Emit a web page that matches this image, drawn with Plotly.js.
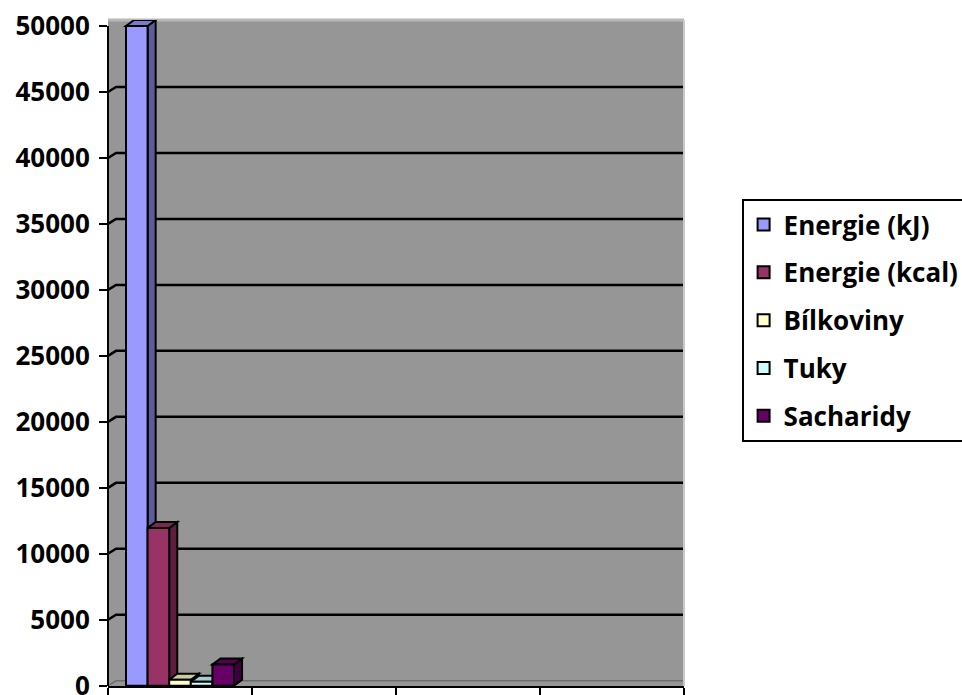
<!DOCTYPE html>
<html>
<head>
<meta charset="utf-8">
<script src="https://cdn.plot.ly/plotly-3.0.1.min.js"></script>
<style>
  html, body { margin: 0; padding: 0; background: #ffffff; }
  #chart { width: 962px; height: 695px; }
</style>
</head>
<body>
<div id="chart"></div>
<script>
// Categories on the horizontal axis (only the first one carries values)
const categories = ['1', '2', '3', '4'];

// Series names and values
const seriesNames = ['Energie (kJ)', 'Energie (kcal)', 'Bílkoviny', 'Tuky', 'Sacharidy'];
const energieKJ   = [50000, null, null, null];
const energieKcal = [11950, null, null, null];
const bilkoviny   = [450, null, null, null];
const tuky        = [300, null, null, null];
const sacharidy   = [1600, null, null, null];

// Y axis ticks
const yTicks = [0, 5000, 10000, 15000, 20000, 25000, 30000, 35000, 40000, 45000, 50000];

const seriesValues = [energieKJ, energieKcal, bilkoviny, tuky, sacharidy];
const seriesColors = ['#9999ff', '#993366', '#ffffcc', '#ccffff', '#660066'];

// darken a hex colour by factor f (0..1)
function shade(hex, f) {
  const n = parseInt(hex.slice(1), 16);
  const r = Math.round(((n >> 16) & 255) * f);
  const g = Math.round(((n >> 8) & 255) * f);
  const b = Math.round((n & 255) * f);
  return 'rgb(' + r + ',' + g + ',' + b + ')';
}

const nSeries = seriesNames.length;
const groupWidth = 0.75;
const barW = groupWidth / nSeries;
const depthX = 0.056;   // 3D depth of the bars, category units
const depthY = 455;     // 3D depth of the bars, value units

const traces = seriesNames.map((name, i) => ({
  type: 'bar',
  name: name,
  x: categories,
  y: seriesValues[i],
  width: barW,
  offset: -groupWidth / 2 + i * barW,
  legendgroup: 'g' + i,
  marker: { color: seriesColors[i], line: { color: '#000000', width: 2 } },
  hoverinfo: 'name+y'
}));

// top and side faces of each bar, built from the same values
const shapes = [];
seriesValues.forEach((vals, i) => {
  vals.forEach((v, c) => {
    if (v === null) return;
    const L = c - groupWidth / 2 + i * barW;
    const R = L + barW;
    shapes.push({
      type: 'path', xref: 'x', yref: 'y', layer: 'between',
      path: `M${R},${v} L${R + depthX},${v + depthY} L${R + depthX},${depthY} L${R},0 Z`,
      fillcolor: shade(seriesColors[i], 0.6),
      line: { color: '#000000', width: 2 }
    });
    shapes.push({
      type: 'path', xref: 'x', yref: 'y', layer: 'between',
      path: `M${L},${v} L${R},${v} L${R + depthX},${v + depthY} L${L + depthX},${v + depthY} Z`,
      fillcolor: shade(seriesColors[i], 0.8),
      line: { color: '#000000', width: 2 }
    });
  });
});

// gridlines on the back wall, with the short diagonal from the axis
yTicks.forEach((t) => {
  if (t === 0 || t === 50000) return;
  shapes.push({
    type: 'path', xref: 'x domain', yref: 'y', layer: 'below',
    xsizemode: 'pixel', ysizemode: 'pixel', xanchor: 0, yanchor: t,
    path: 'M0,0 L8,5 L576,5',
    line: { color: '#000000', width: 2.5 }
  });
});
// floor edge
shapes.push({
  type: 'path', xref: 'x domain', yref: 'y', layer: 'below',
  xsizemode: 'pixel', ysizemode: 'pixel', xanchor: 0, yanchor: 0,
  path: 'M0,0 L8,5 L576,5',
  line: { color: '#6e6e6e', width: 1.5 }
});
// top edge of the wall
shapes.push({
  type: 'line', xref: 'paper', yref: 'paper', layer: 'below',
  x0: 0, x1: 1, y0: 1, y1: 1,
  line: { color: '#b8b8b8', width: 3 }
});
shapes.push({
  type: 'line', xref: 'paper', yref: 'paper', layer: 'below',
  x0: 1, x1: 1, y0: 0, y1: 1,
  line: { color: '#c8c8c8', width: 2 }
});
// value axis line, from below the floor to the top tick
shapes.push({
  type: 'line', xref: 'paper', yref: 'y', layer: 'above',
  x0: 0, x1: 0, y0: -600, y1: 50000,
  line: { color: '#000000', width: 2 }
});

const labelFont = { family: '"Open Sans", "Noto Sans", sans-serif', size: 26, color: '#000000', weight: 'bold' };

const layout = {
  width: 962,
  height: 695,
  margin: { l: 108, r: 278, t: 20, b: 9, autoexpand: false },
  paper_bgcolor: '#ffffff',
  plot_bgcolor: '#969696',
  barmode: 'group',
  showlegend: true,
  xaxis: {
    type: 'category',
    categoryorder: 'array',
    categoryarray: categories,
    range: [-0.5, 3.5],
    showticklabels: false,
    showgrid: false,
    zeroline: false,
    showline: true,
    linecolor: '#000000',
    linewidth: 2,
    ticks: 'outside',
    tickson: 'boundaries',
    ticklen: 8,
    tickwidth: 2,
    tickcolor: '#000000',
    fixedrange: true
  },
  yaxis: {
    range: [-20, 50455],
    tickmode: 'array',
    tickvals: yTicks,
    ticktext: yTicks.map(String),
    showgrid: false,
    zeroline: false,
    showline: false,
    ticks: 'outside',
    ticklen: 8,
    tickwidth: 2,
    tickcolor: '#000000',
    ticklabelstandoff: 4,
    ticklabeloverflow: 'allow',
    tickfont: labelFont,
    fixedrange: true
  },
  legend: {
    x: 1.1,
    xanchor: 'left',
    y: 0.731,
    yanchor: 'top',
    bgcolor: '#ffffff',
    bordercolor: '#000000',
    borderwidth: 2,
    font: { family: '"Open Sans", "Noto Sans", sans-serif', size: 26, color: '#000000', weight: 'bold' },
    traceorder: 'grouped',
    tracegroupgap: 11
  },
  shapes: shapes
};

Plotly.newPlot('chart', traces, layout, { displayModeBar: false, staticPlot: true });
</script>
</body>
</html>
